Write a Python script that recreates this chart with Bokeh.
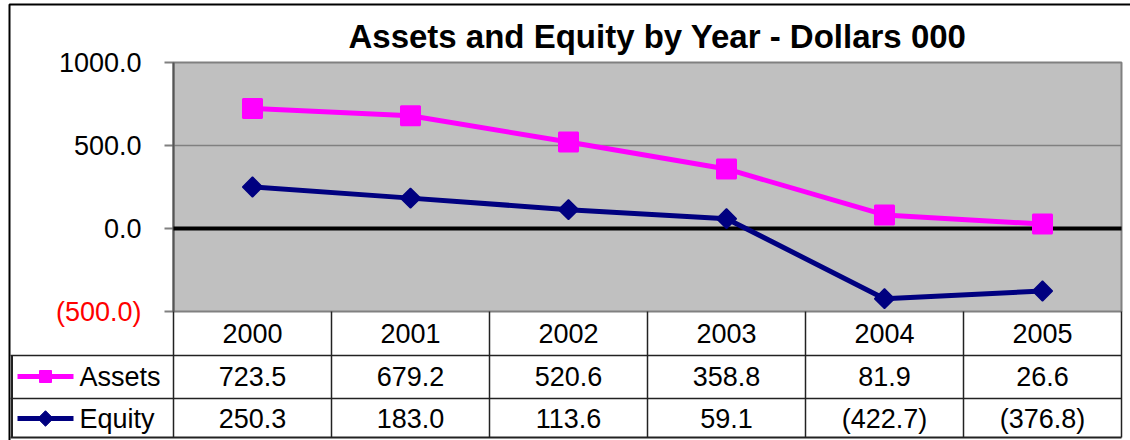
import numpy as np
from bokeh.plotting import figure
from bokeh.models import Range1d, ColumnDataSource
from bokeh.core.properties import value
from bokeh.embed import file_html
from bokeh.resources import INLINE

# ---- data ----
years = ["2000", "2001", "2002", "2003", "2004", "2005"]
assets = [723.5, 679.2, 520.6, 358.8, 81.9, 26.6]
equity = [250.3, 183.0, 113.6, 59.1, -422.7, -376.8]
tick_values = [1000, 500, 0, -500]
tick_labels = ["1000.0", "500.0", "0.0", "(500.0)"]
series_names = ["Assets", "Equity"]
title_text = "Assets and Equity by Year - Dollars 000"

# ---- layout (pixel geometry of the plot area) ----
W, H = 1130, 440
PX0, PX1 = 173, 1121          # plot area left / right in pixels
PY_TOP, PY_BOT = 62, 311      # pixel rows of y=1000 and y=-500
YMAX, YMIN = 1000, -500
ncat = len(years)
xs_per_px = ncat / (PX1 - PX0)
ys_per_px = (YMAX - YMIN) / (PY_BOT - PY_TOP)


def fx(px):
    return (px - PX0) * xs_per_px


def fy(py):
    return YMAX - (py - PY_TOP) * ys_per_px


FONT = value("Liberation Sans")
FS = "27px"

p = figure(width=W, height=H, output_backend="svg", toolbar_location=None,
           x_range=Range1d(fx(0), fx(W)), y_range=Range1d(fy(H), fy(0)),
           x_axis_type=None, y_axis_type=None, min_border=0)
p.grid.visible = False
p.outline_line_color = None
p.background_fill_color = "white"
p.border_fill_color = "white"

# outer chart border
p.quad(left=[fx(9)], right=[fx(W + 10)], bottom=[fy(H + 10)], top=[fy(4)],
       fill_color=None, line_color="black", line_width=2)

# plot area
p.quad(left=[0], right=[ncat], bottom=[YMIN], top=[YMAX],
       fill_color="#C0C0C0", line_color="#808080", line_width=2)

# grid line at 500
p.segment(x0=[0], x1=[ncat], y0=[500], y1=[500], line_color="#808080", line_width=1.5)

# y axis ticks and labels
p.segment(x0=[fx(164)] * len(tick_values), x1=[0] * len(tick_values),
          y0=tick_values, y1=tick_values, line_color="#808080", line_width=2)
p.segment(x0=[0], x1=[0], y0=[YMIN], y1=[YMAX], line_color="#555555", line_width=2)
p.text(x=[fx(141)] * len(tick_values), y=tick_values, text=tick_labels,
       text_color=["black", "black", "black", "#FF0000"],
       text_align="right", text_baseline="middle",
       text_font=FONT, text_font_size=FS)

# zero line
p.segment(x0=[0], x1=[ncat], y0=[0], y1=[0], line_color="black", line_width=4)

# series
xc = [i + 0.5 for i in range(ncat)]
src = ColumnDataSource(dict(x=xc, assets=assets, equity=equity))
p.line("x", "assets", source=src, line_color="#FF00FF", line_width=5)
p.scatter("x", "assets", source=src, marker="square", size=19,
          fill_color="#FF00FF", line_color="#FF00FF", line_width=2)
p.line("x", "equity", source=src, line_color="#000080", line_width=5)
p.scatter("x", "equity", source=src, marker="square", angle=np.pi / 4, size=14,
          fill_color="#000080", line_color="#000080", line_width=1.5)

# title
p.text(x=[fx(657)], y=[fy(36)], text=[title_text], text_align="center",
       text_baseline="middle", text_font=FONT, text_font_size="33px",
       text_font_style="bold", text_color="black")

# ---- data table ----
row_lines_py = [355, 398]
table_bottom_py = 437
line_col = "#222222"
# horizontal row lines
p.segment(x0=[fx(10)] * 2, x1=[ncat] * 2, y0=[fy(v) for v in row_lines_py],
          y1=[fy(v) for v in row_lines_py], line_color=line_col, line_width=1.5)
p.segment(x0=[fx(10)], x1=[ncat], y0=[fy(table_bottom_py)], y1=[fy(table_bottom_py)],
          line_color=line_col, line_width=2)
# vertical column lines
p.segment(x0=list(range(ncat + 1)), x1=list(range(ncat + 1)),
          y0=[YMIN] * (ncat + 1), y1=[fy(table_bottom_py)] * (ncat + 1),
          line_color=line_col, line_width=1.5)
p.segment(x0=[fx(11.5)], x1=[fx(11.5)], y0=[fy(row_lines_py[0])], y1=[fy(table_bottom_py)],
          line_color=line_col, line_width=2)

row_centers_py = [333, 376, 418]


def fmt(v):
    return f"({abs(v):.1f})" if v < 0 else f"{v:.1f}"


p.text(x=xc, y=[fy(row_centers_py[0])] * ncat, text=years, text_align="center",
       text_baseline="middle", text_font=FONT, text_font_size=FS, text_color="black")
p.text(x=xc, y=[fy(row_centers_py[1])] * ncat, text=[fmt(v) for v in assets],
       text_align="center", text_baseline="middle", text_font=FONT,
       text_font_size=FS, text_color="black")
p.text(x=xc, y=[fy(row_centers_py[2])] * ncat, text=[fmt(v) for v in equity],
       text_align="center", text_baseline="middle", text_font=FONT,
       text_font_size=FS, text_color="black")

# legend keys inside the table
ky = [fy(row_centers_py[1]), fy(row_centers_py[2])]
p.segment(x0=[fx(17)] * 2, x1=[fx(73)] * 2, y0=ky, y1=ky,
          line_color=["#FF00FF", "#000080"], line_width=5)
p.scatter(x=[fx(45)], y=[ky[0]], marker="square", size=12,
          fill_color="#FF00FF", line_color="#FF00FF")
p.scatter(x=[fx(45)], y=[ky[1]], marker="square", angle=np.pi / 4, size=11,
          fill_color="#000080", line_color="#000080")
p.text(x=[fx(79)] * 2, y=ky, text=series_names, text_align="left",
       text_baseline="middle", text_font=FONT, text_font_size=FS, text_color="black")

open("out.html", "w").write(file_html(p, INLINE))
